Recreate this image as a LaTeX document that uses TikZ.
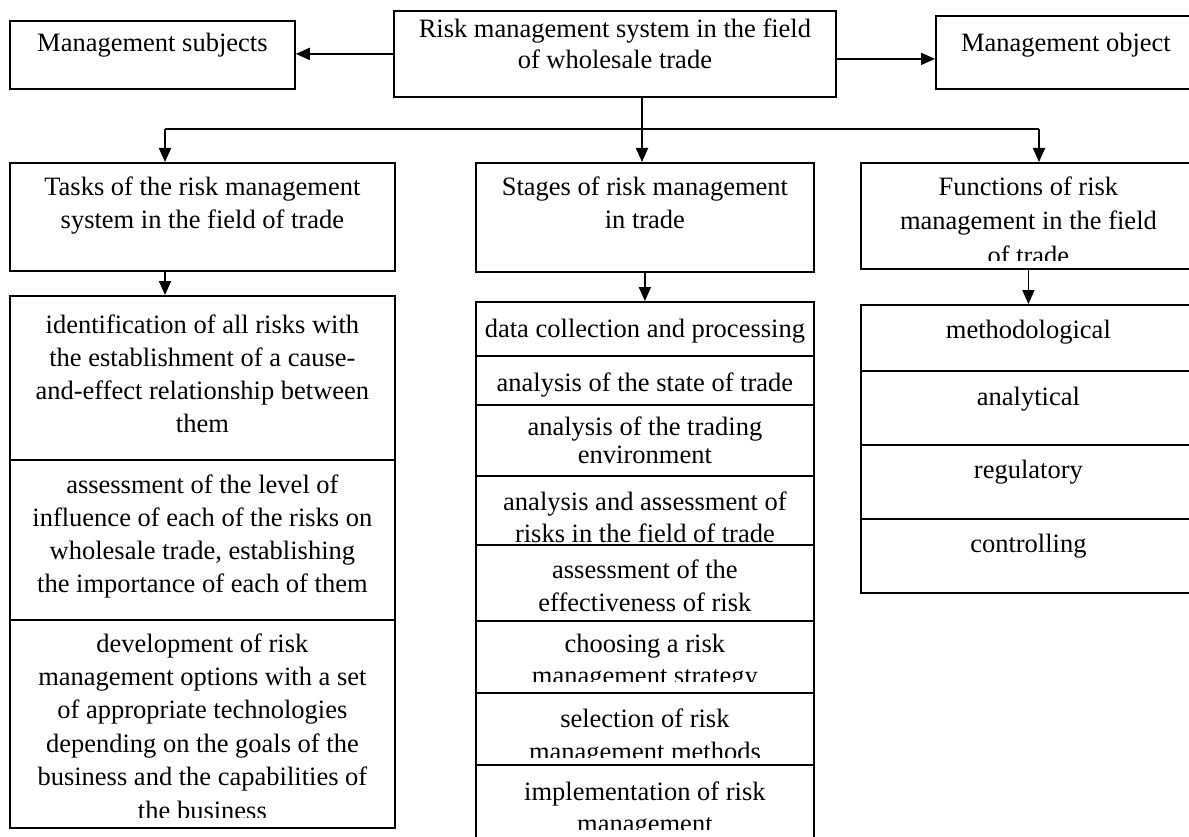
\documentclass[tikz,border=0pt]{standalone}
\usepackage{fontspec}
\setmainfont{Liberation Serif}
\usetikzlibrary{arrows.meta}

\tikzset{
  box/.style 2 args={draw, line width=1.8pt, anchor=north west, inner sep=0pt,
    minimum width=#1pt, minimum height=#2pt},
  words/.style={anchor=base, align=center, inner sep=0pt,
    font=\fontsize{26.5}{#1}\selectfont},
  words/.default=33,
  link/.style={line width=1.8pt},
  arrow/.style={link, -{Triangle[length=14pt,width=12pt]}}
}

\begin{document}
\begin{tikzpicture}[x=1pt,y=-1pt]
\useasboundingbox (0,0) rectangle (1189,837);

% top row (text shifts go to the baseline of the last line)
\node[box={285}{68}] (subj) at (9,20) {};
\node[box={442}{86}] (sys) at (393,10) {};
\node[box={260}{73}] (obj) at (935,15) {};
\node[words] (subj-t) at ([yshift=-32pt]subj.north) {Management subjects};
\node[words=31] (sys-t) at ([yshift=-59pt]sys.north) {Risk management system in the field\\of wholesale trade};
\node[words] (obj-t) at ([yshift=-37pt]obj.north) {Management object};

% second row
\node[box={385}{108}] (tasks) at (9,162) {};
\node[box={338}{109}] (stages) at (475,162) {};
\node[box={335}{106}] (funcs) at (860,162) {};
\node[words] (tasks-t) at ([yshift=-67pt]tasks.north) {Tasks of the risk management\\system in the field of trade};
\node[words] (stages-t) at ([yshift=-67pt]stages.north) {Stages of risk management\\in trade};
\begin{scope}
  \clip (funcs.north west) rectangle ([yshift=9pt]funcs.south east);
  \node[words=35] (funcs-t) at ([yshift=-103pt]funcs.north) {Functions of risk\\management in the field\\of trade};
\end{scope}

% tasks column
\node[box={385}{164}] (tk1) at (9,295) {};
\node[box={385}{160}] (tk2) at (9,459) {};
\node[box={385}{208}] (tk3) at (9,619) {};
\node[words] (tk1-t) at ([yshift=-137pt]tk1.north) {identification of all risks with\\the establishment of a cause-\\and-effect relationship between\\them};
\node[words] (tk2-t) at ([yshift=-133pt]tk2.north) {assessment of the level of\\influence of each of the risks on\\wholesale trade, establishing\\the importance of each of them};
\begin{scope}
  \clip (tk3.north west) rectangle ([yshift=11pt]tk3.south east);
  \node[words=33.4] (tk3-t) at ([yshift=-200pt]tk3.north) {development of risk\\management options with a set\\of appropriate technologies\\depending on the goals of the\\business and the capabilities of\\the business};
\end{scope}

% stages column
\node[box={338}{54}] (st1) at (475,301) {};
\node[box={338}{49}] (st2) at (475,355) {};
\node[box={338}{71}] (st3) at (475,404) {};
\node[box={338}{69}] (st4) at (475,475) {};
\node[box={338}{76}] (st5) at (475,544) {};
\node[box={338}{72}] (st6) at (475,620) {};
\node[box={338}{72}] (st7) at (475,692) {};
\node[box={338}{76}] (st8) at (475,764) {};
\node[words] (st1-t) at ([yshift=-36pt]st1.north) {data collection and processing};
\node[words] (st2-t) at ([yshift=-36pt]st2.north) {analysis of the state of trade};
\node[words=28] (st3-t) at ([yshift=-59pt]st3.north) {analysis of the trading\\environment};
\node[words=32] (st4-t) at ([yshift=-67pt]st4.north) {analysis and assessment of\\risks in the field of trade};
\node[words] (st5-t) at ([yshift=-67pt]st5.north) {assessment of the\\effectiveness of risk};
\begin{scope}
  \clip (st6.north west) rectangle ([yshift=12pt]st6.south east);
  \node[words=32] (st6-t) at ([yshift=-64pt]st6.north) {choosing a risk\\management strategy};
\end{scope}
\begin{scope}
  \clip (st7.north west) rectangle ([yshift=8pt]st7.south east);
  \node[words] (st7-t) at ([yshift=-68pt]st7.north) {selection of risk\\management methods};
\end{scope}
\begin{scope}
  \clip (st8.north west) rectangle ([yshift=12pt]st8.south east);
  \node[words=32] (st8-t) at ([yshift=-68pt]st8.north) {implementation of risk\\management};
\end{scope}

% functions column
\node[box={335}{66}] (fn1) at (860,304) {};
\node[box={335}{74}] (fn2) at (860,370) {};
\node[box={335}{74}] (fn3) at (860,444) {};
\node[box={335}{74}] (fn4) at (860,518) {};
\node[words] (fn1-t) at ([yshift=-34pt]fn1.north) {methodological};
\node[words] (fn2-t) at ([yshift=-35pt]fn2.north) {analytical};
\node[words] (fn3-t) at ([yshift=-34pt]fn3.north) {regulatory};
\node[words] (fn4-t) at ([yshift=-34pt]fn4.north) {controlling};

% connectors
\coordinate (left) at (165,129);
\coordinate (mid) at (642,129);
\coordinate (right) at (1039,129);
\draw[arrow] (sys.west) -- (sys.west -| subj.east);
\draw[arrow] ([yshift=-5pt]sys.east) -- ([yshift=-5pt]sys.east -| obj.west);
\draw[link] (left) -- (right);
\draw[arrow] (sys.south -| mid) -- (stages.north -| mid);
\draw[arrow] (left) -- (tasks.north -| left);
\draw[arrow] (right) -- (funcs.north -| right);
\draw[arrow] (tasks.south -| left) -- (tk1.north -| left);
\draw[arrow] (stages) -- (st1);
\draw[arrow] (funcs) -- (fn1);

\end{tikzpicture}
\end{document}
